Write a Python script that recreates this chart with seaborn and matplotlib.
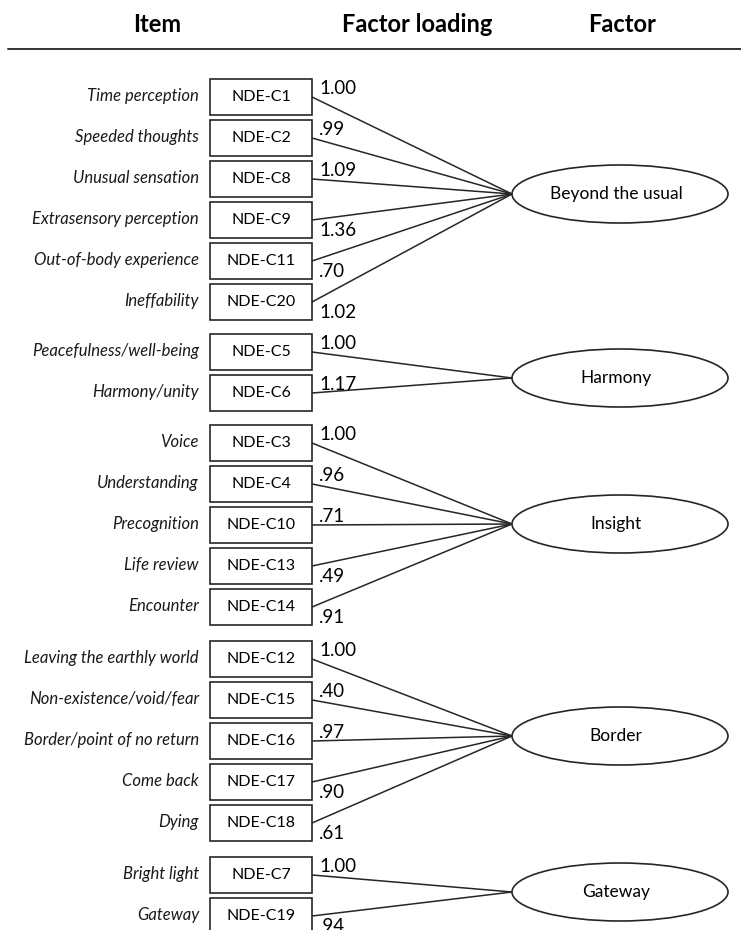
import numpy as np
import pandas as pd
import matplotlib.pyplot as plt
import seaborn as sns
from matplotlib.patches import Rectangle, Ellipse

# veriler
items = ["Time perception", "Speeded thoughts", "Unusual sensation",
         "Extrasensory perception", "Out-of-body experience", "Ineffability",
         "Peacefulness/well-being", "Harmony/unity",
         "Voice", "Understanding", "Precognition", "Life review", "Encounter",
         "Leaving the earthly world", "Non-existence/void/fear",
         "Border/point of no return", "Come back", "Dying",
         "Bright light", "Gateway"]
codes = ["NDE-C1", "NDE-C2", "NDE-C8", "NDE-C9", "NDE-C11", "NDE-C20",
         "NDE-C5", "NDE-C6",
         "NDE-C3", "NDE-C4", "NDE-C10", "NDE-C13", "NDE-C14",
         "NDE-C12", "NDE-C15", "NDE-C16", "NDE-C17", "NDE-C18",
         "NDE-C7", "NDE-C19"]
loadings = ["1.00", ".99", "1.09", "1.36", ".70", "1.02",
            "1.00", "1.17",
            "1.00", ".96", ".71", ".49", ".91",
            "1.00", ".40", ".97", ".90", ".61",
            "1.00", ".94"]
factors = ["Beyond the usual", "Harmony", "Insight", "Border", "Gateway"]
factor_sizes = [6, 2, 5, 5, 2]

# yerlesim (piksel)
W, H = 741, 930
GROUP_TOP = [97, 352, 443, 659, 875]
FACTOR_Y = [194, 378, 524, 736, 892]
PITCH = 41
BOX_L, BOX_R, BOX_H = 210, 312, 36
ELL_X, ELL_W, ELL_H = 620, 216, 58
LABEL_SIDE = ["a", "a", "a", "b", "b", "b",
              "a", "a",
              "a", "a", "a", "b", "b",
              "a", "a", "a", "b", "b",
              "a", "b"]
INK = "#262626"
FONT = "Lato"


def build_edges():
    rows = []
    k = 0
    for g, n in enumerate(factor_sizes):
        for j in range(n):
            y = GROUP_TOP[g] + PITCH * j
            rows.append({"item": codes[k], "x": BOX_R, "y": y, "g": g, "k": k})
            rows.append({"item": codes[k], "x": ELL_X - ELL_W / 2, "y": FACTOR_Y[g], "g": g, "k": k})
            k += 1
    return pd.DataFrame(rows)


def main():
    sns.set_theme(style="white")
    plt.rcParams["font.family"] = [FONT, "DejaVu Sans"]

    fig = plt.figure(figsize=(W / 100, H / 100), dpi=100)
    ax = fig.add_axes([0, 0, 1, 1])
    ax.set_xlim(0, W)
    ax.set_ylim(H, 0)
    ax.axis("off")

    # baslik
    for txt, x in [("Item", 157), ("Factor loading", 417), ("Factor", 622)]:
        ax.text(x, 25, txt, ha="center", va="center", fontsize=17,
                fontweight="bold", color="black")
    ax.plot([8, W], [49, 49], color="#333333", lw=1.4)

    edges = build_edges()
    sns.lineplot(data=edges, x="x", y="y", units="item", estimator=None,
                 color=INK, lw=1.1, sort=False, ax=ax, legend=False)

    starts = edges.iloc[::2].reset_index(drop=True)
    for i, r in starts.iterrows():
        y = r["y"]
        ax.add_patch(Rectangle((BOX_L, y - BOX_H / 2), BOX_R - BOX_L, BOX_H,
                               fill=True, facecolor="white", edgecolor=INK, lw=1.2, zorder=3))
        ax.text((BOX_L + BOX_R) / 2, y, codes[i], ha="center", va="center",
                fontsize=11.5, color="black", zorder=4)
        ax.text(199, y - 1, items[i], ha="right", va="center", fontsize=12,
                style="italic", color="#1a1a1a")
        if LABEL_SIDE[i] == "a":
            ax.text(319, y - 3, loadings[i], ha="left", va="baseline",
                    fontsize=13.5, color="black")
        else:
            ax.text(319, y + 2, loadings[i], ha="left", va="top",
                    fontsize=13.5, color="black")

    for g, f in enumerate(factors):
        ax.add_patch(Ellipse((ELL_X, FACTOR_Y[g]), ELL_W, ELL_H, fill=True,
                             facecolor="white", edgecolor=INK, lw=1.2, zorder=3))
        ax.text(ELL_X - 4, FACTOR_Y[g], f, ha="center", va="center",
                fontsize=12.5, color="black", zorder=4)

    plt.savefig("out.png", dpi=100)


if __name__ == "__main__":
    main()
